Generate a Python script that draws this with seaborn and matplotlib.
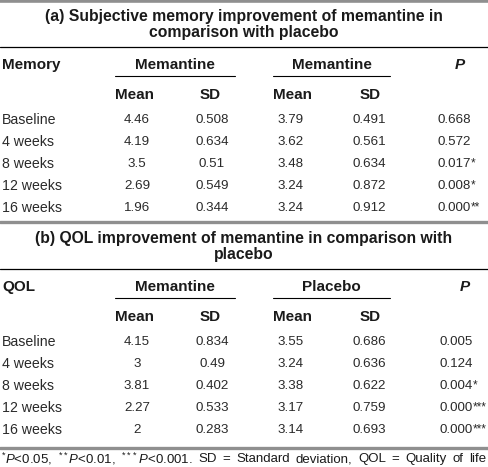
import matplotlib
matplotlib.use("Agg")
from matplotlib import pyplot as plt
import seaborn as sns

# --- table content -------------------------------------------------------
time_points = ["Baseline", "4 weeks", "8 weeks", "12 weeks", "16 weeks"]

mem_title = ["(a) Subjective memory improvement of memantine in", "comparison with placebo"]
mem_groups = ["Memantine", "Memantine"]
mem_drug_mean = ["4.46", "4.19", "3.5", "2.69", "1.96"]
mem_drug_sd = ["0.508", "0.634", "0.51", "0.549", "0.344"]
mem_plac_mean = ["3.79", "3.62", "3.48", "3.24", "3.24"]
mem_plac_sd = ["0.491", "0.561", "0.634", "0.872", "0.912"]
mem_p = ["0.668", "0.572", "0.017", "0.008", "0.000"]
mem_sig = ["", "", "*", "*", "**"]

qol_title = ["(b) QOL improvement of memantine in comparison with", "placebo"]
qol_groups = ["Memantine", "Placebo"]
qol_drug_mean = ["4.15", "3", "3.81", "2.27", "2"]
qol_drug_sd = ["0.834", "0.49", "0.402", "0.533", "0.283"]
qol_plac_mean = ["3.55", "3.24", "3.38", "3.17", "3.14"]
qol_plac_sd = ["0.686", "0.636", "0.622", "0.759", "0.693"]
qol_p = ["0.005", "0.124", "0.004", "0.000", "0.000"]
qol_sig = ["", "", "*", "***", "***"]

footnote_words = [r"$^{*}P$<0.05,", r"$^{**}P$<0.01,", r"$^{***}P$<0.001.", "SD", "=",
                  "Standard", "deviation,", "QOL", "=", "Quality", "of", "life"]

sns.set_theme(style="white")
plt.rcParams["font.family"] = ["Liberation Sans", "DejaVu Sans"]
plt.rcParams["mathtext.fontset"] = "custom"
plt.rcParams["mathtext.rm"] = "Liberation Sans"
plt.rcParams["mathtext.it"] = "Liberation Sans:italic"

GRAY = "#8f8f8f"
INK = "#1a1a1a"
BODY = "#2a2a2a"
NUM_FS = 9.6

fig = plt.figure(figsize=(4.88, 4.67), dpi=100)
ax = fig.add_axes([0, 0, 1, 1])
ax.set_xlim(0, 488)
ax.set_ylim(467, 0)
ax.axis("off")

col_x = [137, 212, 291, 369]


def draw_panel(top, title, stub, groups, columns, pvals, sig, p_x, p_head_x):
    # title, two centred lines
    for k, line in enumerate(title):
        ax.text(244, top + 16 + 16 * k, line, ha="center", va="center", fontsize=11.3,
                fontweight="bold", color=INK)
    ax.plot([0, 488], [top + 46, top + 46], color="black", lw=0.9)

    # header rows
    hy = top + 64
    ax.text(2, hy, stub, ha="left", va="center", fontsize=11, fontweight="bold", color=INK)
    for g, (x0, x1) in zip(groups, [(115, 235), (273, 390)]):
        ax.text((x0 + x1) / 2, hy, g, ha="center", va="center", fontsize=11,
                fontweight="bold", color=INK)
        ax.plot([x0, x1], [hy + 11, hy + 11], color="black", lw=0.8)
    ax.text(p_head_x, hy, "P", ha="center", va="center", fontsize=11,
            fontweight="bold", style="italic", color=INK)
    sy = hy + 30
    for x, lab in zip([135, 210, 293, 370], ["Mean", "SD", "Mean", "SD"]):
        ax.text(x, sy, lab, ha="center", va="center", fontsize=11, fontweight="bold", color=INK)

    # body
    row_y = [top + 119, top + 141, top + 163, top + 185, top + 207]
    for i, y in enumerate(row_y):
        ax.text(2, y, time_points[i], ha="left", va="center", fontsize=10.2, color=BODY)
        for x, col in zip(col_x, columns):
            ax.text(x, y, col[i], ha="center", va="center", fontsize=NUM_FS, color=BODY)
        ax.text(p_x, y, pvals[i], ha="left", va="center", fontsize=NUM_FS, color=BODY)
        if sig[i]:
            ax.text(p_x + 33.5, y - 1, sig[i], ha="left", va="center",
                    fontsize=8.5, color=BODY)


ax.plot([0, 488], [1, 1], color=GRAY, lw=2.6)
draw_panel(1, mem_title, "Memory", mem_groups,
           [mem_drug_mean, mem_drug_sd, mem_plac_mean, mem_plac_sd], mem_p, mem_sig, 437, 460)
ax.plot([0, 488], [222, 222], color=GRAY, lw=2.4)
draw_panel(223, qol_title, "QOL", qol_groups,
           [qol_drug_mean, qol_drug_sd, qol_plac_mean, qol_plac_sd], qol_p, qol_sig, 439, 465)
ax.plot([0, 488], [448, 448], color=GRAY, lw=2.4)

# footnote, spread across the full width like the justified original
renderer = fig.canvas.get_renderer()
words = [ax.text(0, 459, w, ha="left", va="center", fontsize=9.5, color=INK)
         for w in footnote_words]
widths = [w.get_window_extent(renderer).width for w in words]
gap = (486 - 1 - sum(widths)) / (len(words) - 1)
x = 1
for w, wd in zip(words, widths):
    w.set_x(x)
    x += wd + gap

fig.savefig("out.png", dpi=100)
